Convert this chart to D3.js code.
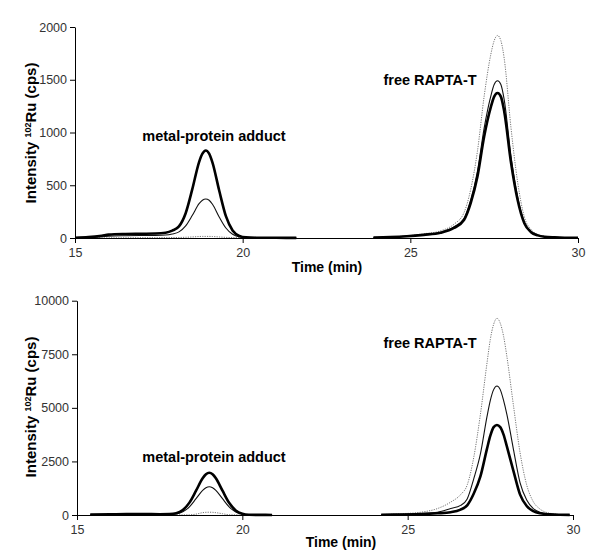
<!DOCTYPE html>
<html>
<head>
<meta charset="utf-8">
<script src="https://cdn.jsdelivr.net/npm/d3@7"></script>
<style>
  html, body { margin: 0; padding: 0; background: #fff; }
  svg { display: block; }
</style>
</head>
<body>
<svg id="chart" width="600" height="560"></svg>
<script>
// ---------------- DATA ----------------
const xTicks = [15, 20, 25, 30];
const topYTicks = [0, 500, 1000, 1500, 2000];
const bottomYTicks = [0, 2500, 5000, 7500, 10000];
const xTitle = "Time (min)";
const yTitleMain = "Intensity ";
const yTitleSup = "102";
const yTitleRest = "Ru (cps)";
const labelAdduct = "metal-protein adduct";
const labelFree = "free RAPTA-T";

// top panel (null = no signal recorded)
const timeTop = [15.0, 15.4, 15.8, 16.0, 16.5, 17.0, 17.4, 17.7, 17.9, 18.1, 18.3, 18.5, 18.7, 18.8, 18.9, 19.0, 19.1, 19.3, 19.5, 19.7, 19.9, 20.1, 20.4, 21.0, 21.6, 22.7, 23.9, 24.4, 24.9, 25.4, 25.9, 26.3, 26.6, 26.8, 27.0, 27.2, 27.4, 27.5, 27.6, 27.7, 27.8, 28.0, 28.2, 28.4, 28.6, 28.8, 29.0, 29.3, 29.6, 30.0];
const topThick = [3, 8, 22, 32, 38, 40, 42, 50, 70, 110, 235, 465, 720, 800, 830, 800, 715, 450, 207, 72, 20, 6, 3, 2, 1, null, 4, 8, 16, 30, 50, 95, 170, 330, 580, 960, 1240, 1340, 1375, 1340, 1200, 720, 360, 140, 55, 25, 12, 6, 3, 2];
const topThin = [2, 4, 12, 18, 22, 24, 25, 28, 38, 58, 115, 215, 325, 358, 370, 358, 320, 200, 95, 35, 11, 4, 2, 1, 1, null, 4, 9, 18, 33, 55, 105, 185, 360, 630, 1040, 1345, 1455, 1490, 1455, 1310, 780, 390, 150, 60, 27, 13, 6, 3, 2];
const topDotted = [1, 1, 2, 2, 2, 3, 3, 3, 4, 5, 7, 10, 14, 15, 15, 15, 14, 10, 6, 4, 3, 2, 2, 1, 1, null, 5, 10, 20, 40, 68, 130, 240, 460, 820, 1340, 1740, 1870, 1920, 1870, 1700, 1050, 530, 200, 80, 35, 16, 7, 3, 2];

// bottom panel
const timeBottom = [15.4, 16.0, 16.5, 17.0, 17.5, 17.8, 18.0, 18.2, 18.4, 18.6, 18.8, 18.9, 19.0, 19.1, 19.2, 19.4, 19.6, 19.8, 20.0, 20.2, 20.5, 20.9, 22.5, 24.2, 24.8, 25.4, 25.9, 26.3, 26.6, 26.8, 27.0, 27.2, 27.4, 27.5, 27.6, 27.7, 27.8, 27.9, 28.0, 28.2, 28.4, 28.6, 28.8, 29.0, 29.3, 29.6, 29.9];
const bottomThick = [20, 30, 40, 40, 38, 45, 85, 235, 577, 1133, 1716, 1903, 1970, 1903, 1716, 1133, 567, 215, 62, 14, 5, 3, null, 10, 20, 40, 80, 130, 250, 450, 1000, 1800, 3100, 3700, 4100, 4200, 4100, 3750, 3200, 2050, 950, 420, 180, 80, 30, 12, 5];
const bottomThin = [15, 20, 25, 25, 25, 30, 45, 150, 380, 760, 1150, 1275, 1320, 1275, 1150, 760, 380, 145, 42, 10, 3, 2, null, 12, 35, 70, 130, 300, 450, 750, 1700, 2850, 4600, 5350, 5850, 6020, 5850, 5350, 4700, 3050, 1500, 700, 300, 130, 45, 15, 6];
const bottomDotted = [5, 5, 5, 5, 5, 5, 5, 5, 10, 40, 110, 125, 130, 125, 110, 60, 10, 5, 5, 5, 5, 5, null, 20, 60, 130, 300, 600, 950, 1400, 2700, 4700, 7100, 8200, 8900, 9180, 8950, 8350, 7400, 5100, 2900, 1400, 620, 280, 80, 25, 8];

// ---------------- DRAW ----------------
const svg = d3.select("#chart");
const FONT = "'Liberation Sans', Arial, sans-serif";

const panels = [
  {
    time: timeTop, series: [topDotted, topThin, topThick], yTicks: topYTicks, yMax: 2000,
    xRange: [75, 578], yRange: [238, 27],
    xTitlePos: [327, 272], yTitlePos: [31, 133],
    adductPos: [214, 141], freePos: [430, 85]
  },
  {
    time: timeBottom, series: [bottomDotted, bottomThin, bottomThick], yTicks: bottomYTicks, yMax: 10000,
    xRange: [77, 573], yRange: [515, 300.7],
    xTitlePos: [341, 547], yTitlePos: [31, 407],
    adductPos: [214, 462], freePos: [430, 348]
  }
];

const styles = [
  { stroke: "#777", width: 1, dash: "1.2,1.2" },
  { stroke: "#111", width: 1.1, dash: null },
  { stroke: "#000", width: 2.6, dash: null }
];

panels.forEach(p => {
  const x = d3.scaleLinear().domain([15, 30]).range(p.xRange);
  const y = d3.scaleLinear().domain([0, p.yMax]).range(p.yRange);
  const g = svg.append("g");

  const line = d3.line()
    .defined(d => d.v !== null)
    .x(d => x(d.t))
    .y(d => y(d.v))
    .curve(d3.curveMonotoneX);

  p.series.forEach((s, i) => {
    const data = p.time.map((t, j) => ({ t: t, v: s[j] }));
    const st = styles[i];
    g.append("path")
      .datum(data)
      .attr("fill", "none")
      .attr("stroke", st.stroke)
      .attr("stroke-width", st.width)
      .attr("stroke-linejoin", "round")
      .attr("stroke-dasharray", st.dash)
      .attr("d", line);
  });

  const xAxis = g.append("g")
    .attr("transform", `translate(0,${p.yRange[0]})`)
    .call(d3.axisBottom(x).tickValues(xTicks).tickFormat(d3.format("d")).tickSize(5).tickSizeOuter(0).tickPadding(5));
  const yAxis = g.append("g")
    .attr("transform", `translate(${p.xRange[0]},0)`)
    .call(d3.axisLeft(y).tickValues(p.yTicks).tickFormat(d3.format("d")).tickSize(5).tickSizeOuter(0).tickPadding(3));

  [xAxis, yAxis].forEach(a => {
    a.selectAll("path, line").attr("stroke", "#000").attr("stroke-width", 1);
    a.selectAll("text").attr("font-family", FONT).attr("font-size", 12.5).attr("fill", "#333");
  });

  g.append("text")
    .attr("x", p.xTitlePos[0]).attr("y", p.xTitlePos[1])
    .attr("text-anchor", "middle")
    .attr("font-family", FONT).attr("font-size", 14).attr("font-weight", "bold")
    .text(xTitle);

  const yt = g.append("text")
    .attr("transform", `translate(${p.yTitlePos[0]},${p.yTitlePos[1]}) rotate(-90)`)
    .attr("text-anchor", "middle")
    .attr("dy", "0.35em")
    .attr("font-family", FONT).attr("font-size", 15).attr("font-weight", "bold");
  yt.append("tspan").text(yTitleMain);
  yt.append("tspan").attr("font-size", 9).attr("dy", "-0.6em").text(yTitleSup);
  yt.append("tspan").attr("dy", "0.37em").text(yTitleRest);

  g.append("text")
    .attr("x", p.adductPos[0]).attr("y", p.adductPos[1])
    .attr("text-anchor", "middle")
    .attr("font-family", FONT).attr("font-size", 14.5).attr("font-weight", "bold")
    .text(labelAdduct);
  g.append("text")
    .attr("x", p.freePos[0]).attr("y", p.freePos[1])
    .attr("text-anchor", "middle")
    .attr("font-family", FONT).attr("font-size", 14.5).attr("font-weight", "bold")
    .text(labelFree);
});
</script>
</body>
</html>
